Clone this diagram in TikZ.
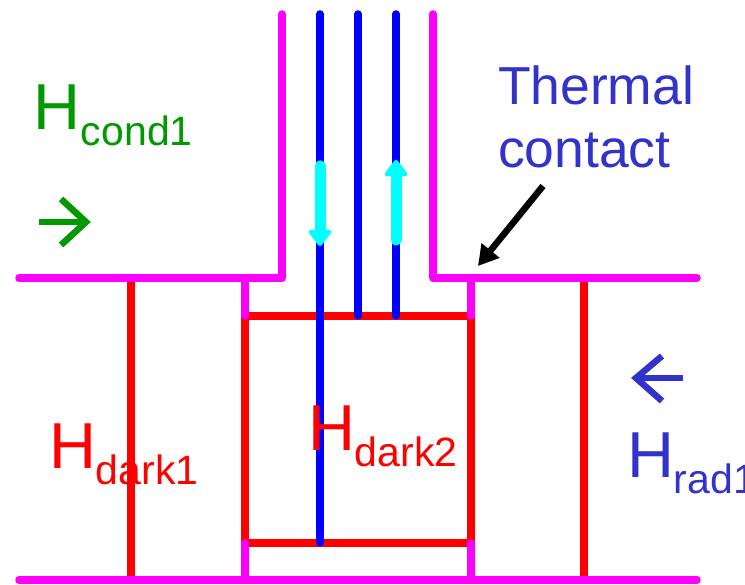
\documentclass[tikz,border=0pt]{standalone}
\usepackage{xcolor}
\usepackage{fontspec}
\usepackage{tikz}
\usetikzlibrary{arrows.meta}
\setmainfont{Liberation Sans}
\definecolor{fluxgreen}{HTML}{009900}
\definecolor{fluxblue}{HTML}{3333CC}
\definecolor{wallpink}{HTML}{FF00FF}
\definecolor{flowcyan}{HTML}{00FFFF}
\definecolor{darkred}{HTML}{FF0000}
\definecolor{wireblue}{HTML}{0000FF}
\newcommand{\hlabel}[1]{\fontsize{65}{65}\selectfont H\raisebox{-16pt}{\fontsize{41}{41}\selectfont #1}}

\begin{document}
\begin{tikzpicture}[x=1pt, y=-1pt, line cap=round,
        wall/.style = {color=wallpink, line width=7.5pt, line join=round},
        dark/.style = {color=darkred, line width=7.5pt},
        wire/.style = {color=wireblue, line width=7.5pt},
        flow/.style = {color=flowcyan, line width=11pt, -{Triangle[width=26pt,length=18pt,round]}},
        fluxarrow/.style = {line width=6.5pt, line cap=butt, miter limit=10},
        txt/.style = {anchor=base west, inner sep=0pt, outer sep=0pt}]
    \useasboundingbox (0,0) rectangle (745,585);
    % outer walls
    \coordinate (tl) at (19,278);
    \coordinate (tm1) at (282,278);
    \coordinate (tt1) at (282,14);
    \coordinate (tt2) at (433,14);
    \coordinate (tm2) at (433,278);
    \coordinate (tr) at (697,278);
    \coordinate (bl) at (19,580);
    \coordinate (br) at (697,580);
    % inner box
    \coordinate (b1) at (245,316);
    \coordinate (b2) at (471,316);
    \coordinate (b3) at (471,543);
    \coordinate (b4) at (245,543);
    % red links
    \draw[dark] (131,278) coordinate (d1) -- (131,580) coordinate (d2);
    \draw[dark] (584,278) coordinate (d3) -- (584,580) coordinate (d4);
    \draw[dark, line cap=butt, line join=miter] (b1) -- (b2) -- (b3) -- (b4) -- cycle;
    % wires
    \coordinate (w1) at (320,14);
    \coordinate (w1e) at (320,543);
    \coordinate (w2) at (358,14);
    \coordinate (w2e) at (358,316);
    \coordinate (w3) at (396,14);
    \coordinate (w3e) at (396,316);
    \draw[wire] (w1) -- (w1e);
    \draw[wire] (w2) -- (w2e);
    \draw[wire] (w3) -- (w3e);
    % magenta parts
    \draw[wall] (tl) -- (tm1) -- (tt1);
    \draw[wall] (tt2) -- (tm2) -- (tr);
    \draw[wall] (bl) -- (br);
    \draw[wall] (245,278) coordinate (s1) -- (b1);
    \draw[wall] (b2) -- (471,278) coordinate (s2);
    \draw[wall] (b4) -- (245,580) coordinate (s3);
    \draw[wall] (b3) -- (471,580) coordinate (s4);
    % current arrows
    \coordinate (f1) at (320,166);
    \coordinate (f2) at (320,246);
    \coordinate (f3) at (396,240);
    \coordinate (f4) at (396,160);
    \draw[flow] (f1) -- (f2);
    \draw[flow] (f3) -- (f4);
    % labels
    \node[txt, color=fluxgreen] (cond) at (34,130) {\hlabel{cond1}};
    \node[txt, color=darkred] (darka) at (49,468) {\hlabel{dark1}};
    \node[txt, color=darkred] (darkb) at (308,451) {\hlabel{dark2}};
    \node[txt, color=fluxblue] (rad) at (627,478) {\hlabel{rad1}};
    \node[txt, color=fluxblue, font=\fontsize{53.5}{53.5}\selectfont] (therm) at (498,105) {Thermal};
    \node[txt, color=fluxblue, font=\fontsize{53.5}{53.5}\selectfont] (cont) at (498,168) {contact};
    % heat flux arrows
    \coordinate (ga) at (39,222);
    \coordinate (gt) at (86,222);
    \draw[fluxarrow, color=fluxgreen] (ga) -- (gt);
    \draw[fluxarrow, color=fluxgreen] (61,199) -- (gt) -- (61,245);
    \coordinate (ra) at (683,378);
    \coordinate (rt) at (636,378);
    \draw[fluxarrow, color=fluxblue] (ra) -- (rt);
    \draw[fluxarrow, color=fluxblue] (662,356) -- (rt) -- (662,401);
    % pointer
    \coordinate (pa) at (543,186);
    \coordinate (pt) at (478,266);
    \draw[line width=6.5pt, line cap=butt, -{Triangle[width=22pt,length=20pt]}] (pa) -- (pt);
\end{tikzpicture}
\end{document}
